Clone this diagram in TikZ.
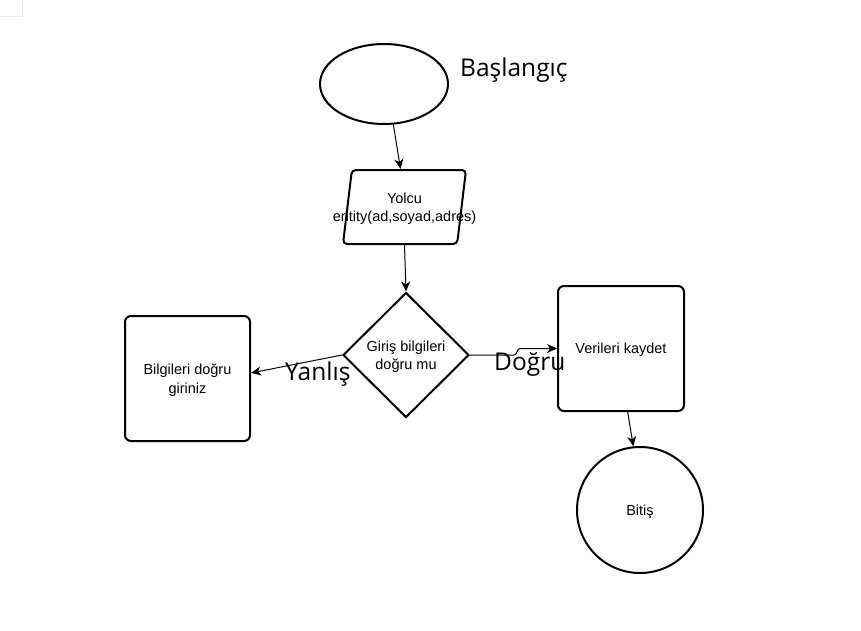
\documentclass[tikz,border=0pt]{standalone}
\usepackage{fontspec}
\setmainfont{Liberation Sans}
\newfontfamily\labelfont{Open Sans}
\usetikzlibrary{shapes.geometric,arrows.meta}

\begin{document}
\begin{tikzpicture}[x=1pt, y=-1pt,
        box/.style={draw=black, line width=2pt, align=center, inner sep=0pt,
            text depth=0pt, font=\fontsize{14.5}{18.5}\selectfont},
        bigtext/.style={inner sep=0pt, anchor=base west,
            font=\labelfont\fontsize{24.5}{30}\selectfont},
        flow/.style={draw=black, line width=1pt,
            -{Stealth[length=10pt, width=9pt, inset=3pt]}}]
            \useasboundingbox (0,0) rectangle (861,630);
            % corner tab of the screenshot
            \draw[gray!15] (0,16) -- (22,16) -- (22,0);
            % start and input
            \node[box, ellipse, minimum width=128, minimum height=80] (start) at (384,84) {};
            \node[box, trapezium, trapezium left angle=73, trapezium right angle=107,
                trapezium stretches body=true, rounded corners=4pt,
                minimum width=123, minimum height=74] (yolcu) at (404.5,207)
                {\makebox[0pt]{Yolcu}\\\makebox[0pt]{entity(ad,soyad,adres)}};
            % decision
            \node[box, diamond, minimum width=126, minimum height=125] (kontrol) at (406,355) {Giriş bilgileri\\doğru mu};
            % left and right boxes
            \node[box, rectangle, rounded corners=6pt, minimum width=125, minimum height=125] (hata) at (187.5,378.5) {Bilgileri doğru\\giriniz};
            \node[box, rectangle, rounded corners=6pt, minimum width=126, minimum height=125] (kaydet) at (621,348.5) {Verileri kaydet};
            % end
            \node[box, circle, minimum size=126] (bitis) at (640,510) {Bitiş};
            % labels
            \node[bigtext] (lblbas) at (460,76) {Başlangıç};
            \node[bigtext] (lblyanlis) at (285,380) {Yanlış};
            \node[bigtext] (lbldogru) at (494,370) {Doğru};
            % connectors
            \draw[flow] (start.-77) -- (yolcu.96);
            \draw[flow] (yolcu.south) -- (kontrol.north);
            \draw[flow] (kontrol.west) -- (hata.5);
            \draw[flow] (kontrol.east) -- ++(44,0) to[out=0, in=180] ++(6,-6.5) -- (kaydet.west);
            \draw[flow] (kaydet.-84) -- (bitis.96);
        \end{tikzpicture}
\end{document}
